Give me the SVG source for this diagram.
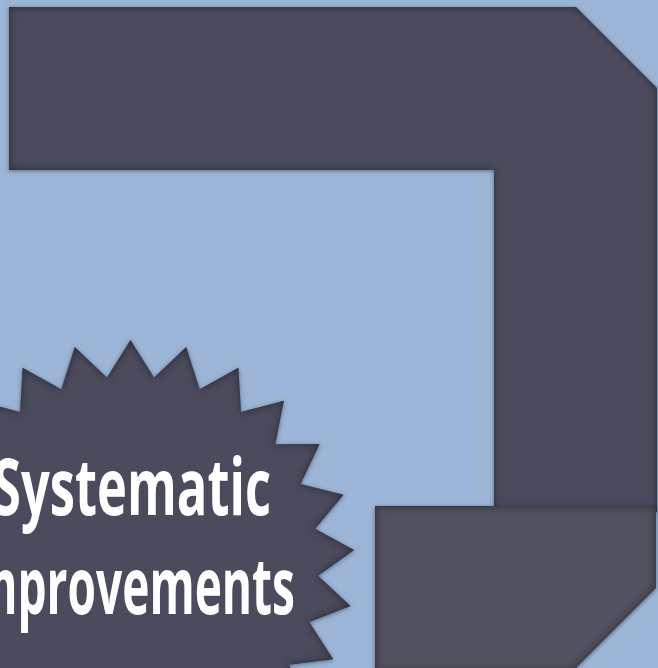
<svg xmlns="http://www.w3.org/2000/svg" width="658" height="668" viewBox="0 0 658 668">
  <defs>
    <style>
      .shape { filter: url(#fx); }
      .dark { fill: #4b4b5e; }
      .box { fill: #51515f; }
      .label { font-family: "Open Sans", "DejaVu Sans", sans-serif; font-weight: bold; font-size: 79px; fill: #ffffff; text-anchor: middle; }
    </style>
    <filter id="fx" x="-10%" y="-10%" width="120%" height="120%" color-interpolation-filters="sRGB">
      <feGaussianBlur in="SourceAlpha" stdDeviation="4" result="blur"/>
      <feComposite in="SourceAlpha" in2="blur" operator="out" result="edge"/>
      <feFlood flood-color="#000000" flood-opacity="0.45"/>
      <feComposite in2="edge" operator="in" result="inner"/>
      <feGaussianBlur in="SourceAlpha" stdDeviation="2" result="db"/>
      <feOffset in="db" dx="0" dy="1" result="dbo"/>
      <feFlood flood-color="#1c2230" flood-opacity="0.5"/>
      <feComposite in2="dbo" operator="in" result="drop"/>
      <feMerge>
        <feMergeNode in="drop"/>
        <feMergeNode in="SourceGraphic"/>
        <feMergeNode in="inner"/>
      </feMerge>
    </filter>
  </defs>
  <rect width="658" height="668" fill="#9cb5d6"/>
  <g id="frame">
    <path class="shape dark" d="M9,7 H576 L657,88 V512 H494 V170 H9 Z"/>
  </g>
  <g id="box">
    <path class="shape box" d="M375,506 H656 V588 L572,672 H375 Z"/>
  </g>
  <g id="starburst">
    <polygon class="shape dark" transform="translate(130.5,564)" points="0,-224 23.56,-186.52 55.71,-216.96 69.21,-174.8 107.91,-196.29 110.5,-152.1 153.34,-163.29 144.86,-119.83 189.13,-120.03 170.11,-80.05 213.04,-69.22 184.67,-35.23 223.56,-14.06 187.63,11.8 220.03,41.97 178.8,58.1 202.68,95.37 158.73,100.74 172.59,142.78 128.7,137.05 131.66,181.22 90.57,164.75 82.46,208.27 46.75,182.09 28.07,222.23 0,188 -28.07,222.23 -46.75,182.09 -82.46,208.27 -90.57,164.75 -131.66,181.22 -128.7,137.05 -172.59,142.78 -158.73,100.74 -202.68,95.37 -178.8,58.1 -220.03,41.97 -187.63,11.8 -223.56,-14.06 -184.67,-35.23 -213.04,-69.22 -170.11,-80.05 -189.13,-120.03 -144.86,-119.83 -153.34,-163.29 -110.5,-152.1 -107.91,-196.29 -69.21,-174.8 -55.71,-216.96 -23.56,-186.52"/>
    <text class="label" x="132" y="515" textLength="278" lengthAdjust="spacingAndGlyphs">Systematic</text>
    <text class="label" x="126" y="614" textLength="338" lengthAdjust="spacingAndGlyphs">Improvements</text>
  </g>
</svg>
